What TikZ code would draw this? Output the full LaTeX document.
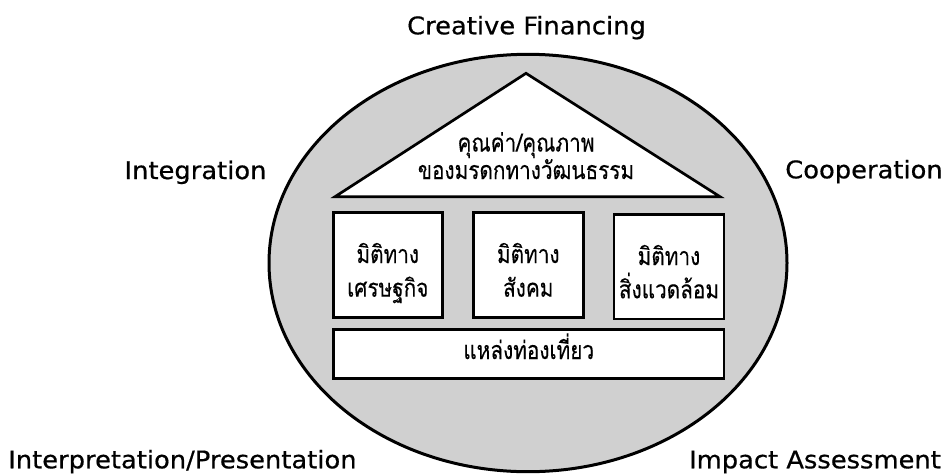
\documentclass[tikz,border=0pt]{standalone}
\usepackage{fontspec}
\setmainfont{DejaVu Sans}[FakeStretch=1.06, FakeBold=0.6]
\newfontfamily\thaifont[Script=Thai, FakeStretch=0.83, FakeBold=0.3]{Loma}
\definecolor{ellgray}{RGB}{208,208,208}
\tikzset{
  lbl/.style={inner sep=0pt, anchor=base, font=\fontsize{24.3}{28}\selectfont},
  pillar/.style={draw=black, line width=2.7pt, fill=white, inner sep=0pt},
  thaitxt/.style={inner sep=0pt, align=center, anchor=base}
}
\begin{document}
\begin{tikzpicture}[x=1pt,y=-1pt]
\useasboundingbox (0,0) rectangle (950,474);
\draw[line width=3pt, fill=ellgray] (528,263) ellipse [x radius=259, y radius=208.7];
\draw[line width=2.7pt, fill=white, line join=miter] (526,73.3) -- (720,196.7) -- (335,196.7) -- cycle;
\node[thaitxt, font=\thaifont\fontsize{25}{23.3}\selectfont] (roof) at (526,179) {คุณค่า/คุณภาพ\\ของมรดกทางวัฒนธรรม};
\node[pillar, minimum width=109pt, minimum height=104.6pt] (econ) at (387.8,265) {};
\node[pillar, minimum width=110pt, minimum height=104.6pt] (soc) at (528.3,265) {};
\node[pillar, minimum width=110pt, minimum height=104.7pt] (env) at (669,266.7) {};
\node[pillar, minimum width=390.7pt, minimum height=49pt] (base) at (528.7,353.8) {};
\node[thaitxt, font=\thaifont\fontsize{25}{33.7}\selectfont] (econtxt) at (econ.center |- 0,296.7) {มิติทาง\\เศรษฐกิจ};
\node[thaitxt, font=\thaifont\fontsize{25}{33.7}\selectfont] (soctxt) at (soc.center |- 0,296.7) {มิติทาง\\สังคม};
\node[thaitxt, font=\thaifont\fontsize{25}{33.3}\selectfont] (envtxt) at (env.center |- 0,298.3) {มิติทาง\\สิ่งแวดล้อม};
\node[thaitxt, font=\thaifont\fontsize{25}{30}\selectfont] (basetxt) at (base.center |- 0,359) {แหล่งท่องเที่ยว};
\node[lbl] (cf) at (526.5,34.3) {Creative Financing};
\node[lbl] (integ) at (195.5,179) {Integration};
\node[lbl] (coop) at (864,178.3) {Cooperation};
\node[lbl] (interp) at (182.4,468.3) {Interpretation/Presentation};
\node[lbl] (impact) at (815,468.3) {Impact Assessment};
\end{tikzpicture}
\end{document}
